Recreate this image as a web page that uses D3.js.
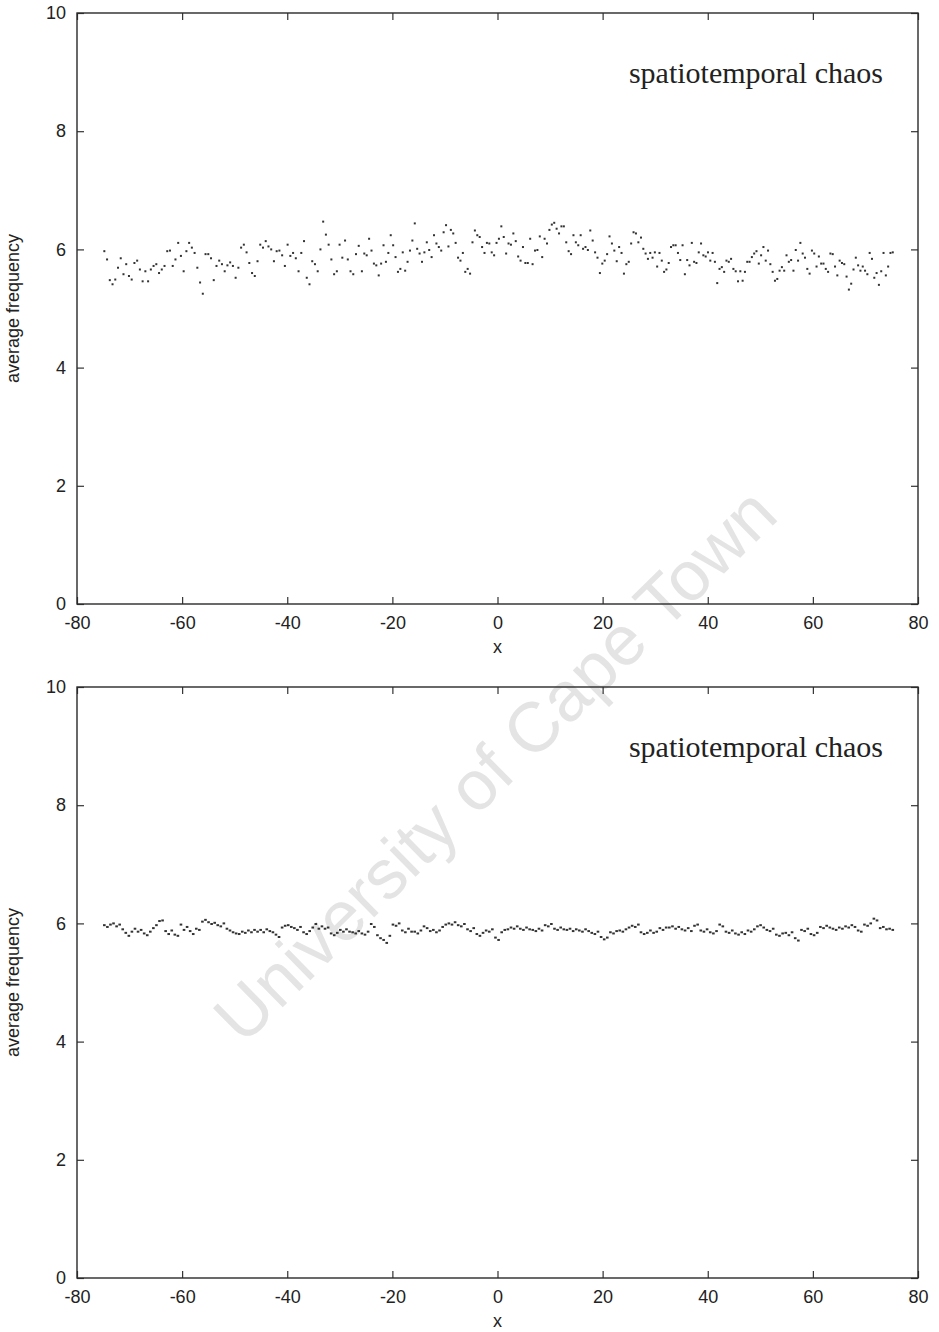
<!DOCTYPE html>
<html>
<head>
<meta charset="utf-8">
<script src="https://cdn.jsdelivr.net/npm/d3@7"></script>
<style>
  body { margin: 0; background: #fff; }
</style>
</head>
<body>
<div id="chart"></div>
<script>
// average frequency, upper panel, in three stretches of x
const topWest = [5.97, 5.83, 5.48, 5.41, 5.49, 5.69, 5.85, 5.58, 5.75, 5.55,
  5.49, 5.77, 5.81, 5.66, 5.46, 5.63, 5.46, 5.66, 5.72, 5.75,
  5.60, 5.66, 5.72, 5.97, 5.98, 5.72, 5.83, 6.11, 5.89, 5.63,
  5.97, 6.11, 6.03, 5.94, 5.69, 5.44, 5.25, 5.92, 5.92, 5.85, 5.48,
  5.72, 5.81, 5.75, 5.63, 5.73, 5.78, 5.72, 5.52, 5.69, 6.03, 6.08, 5.95,
  5.77, 5.60, 5.55, 5.80, 6.08, 6.03, 6.14, 6.05, 6.00, 5.80, 5.97,
  5.98, 5.90, 5.72, 6.08, 5.89, 5.94, 5.85, 5.63, 5.94, 6.14, 5.52, 5.41,
  5.80, 5.75, 5.63, 6.00, 6.47, 6.25, 6.08, 5.83, 5.58, 5.63, 6.08,
  5.86, 6.15, 5.83, 5.63, 5.58, 5.92, 6.06];
const topMid = [5.63, 5.93, 5.90, 6.18, 5.98, 5.76, 5.73, 5.56, 5.76, 6.07,
  5.79, 5.94, 6.24, 6.07, 5.87, 5.62, 5.67, 5.95, 5.64, 5.79,
  5.98, 6.15, 6.44, 6.01, 5.93, 5.79, 5.95, 6.12, 5.99, 5.87,
  6.24, 6.10, 6.04, 5.98, 6.29, 6.41, 6.05, 6.33, 6.27, 6.11,
  5.86, 5.81, 5.94, 5.62, 5.67, 5.59, 6.12, 6.32, 6.24, 6.21,
  6.04, 5.94, 6.11, 6.10, 5.95, 5.90, 6.11, 6.18, 6.39, 6.21,
  5.93, 6.10, 6.08, 6.27, 6.14, 5.88, 5.81, 6.04, 5.77, 5.77,
  6.18, 5.75, 5.98, 5.99, 6.22, 5.87, 6.18, 6.10, 6.33, 6.42,
  6.45, 6.35, 6.27, 6.39, 6.39, 6.12, 5.97, 5.92, 6.24, 6.12,
  6.07, 6.24, 6.01, 6.04, 5.99, 6.32, 6.15, 5.95, 5.86, 5.60,
  5.76, 5.81, 5.92, 6.22, 6.10, 5.98, 5.80, 6.04, 5.94, 5.59,
  5.75, 5.79, 6.10, 6.29, 6.27, 6.12];
const topEast = [6.20, 6.01, 5.93, 5.84, 5.94, 5.86, 5.95, 5.71, 5.94, 5.81,
  5.62, 5.66, 5.77, 6.04, 6.07, 6.07, 5.94, 5.82, 6.07, 5.58,
  5.82, 5.73, 6.11, 5.79, 5.77, 5.95, 6.10, 5.90, 5.88, 5.95,
  5.81, 5.94, 5.79, 5.43, 5.67, 5.70, 5.62, 5.81, 5.79, 5.84,
  5.67, 5.63, 5.46, 5.63, 5.47, 5.62, 5.79, 5.79, 5.87, 5.93,
  5.97, 5.76, 5.90, 6.04, 5.81, 5.98, 5.75, 5.62, 5.47, 5.50,
  5.64, 5.70, 5.64, 5.90, 5.79, 5.82, 5.64, 5.99, 5.81, 6.11,
  5.93, 5.86, 5.67, 5.59, 5.98, 5.93, 5.71, 5.88, 5.76, 5.76,
  5.67, 5.62, 5.93, 5.92, 5.71, 5.56, 5.81, 5.77, 5.75, 5.54,
  5.32, 5.42, 5.66, 5.86, 5.73, 5.64, 5.71, 5.64, 5.58, 5.94,
  5.84, 5.52, 5.60, 5.40, 5.63, 5.94, 5.56, 5.71, 5.94, 5.95];

// lower panel, same stretches
const bottomWest = [5.97, 5.94, 5.98, 6.00, 5.95, 5.98, 5.90, 5.84, 5.79,
  5.86, 5.91, 5.86, 5.89, 5.83, 5.80, 5.86, 5.92, 5.97, 6.04, 6.05,
  5.87, 5.82, 5.88, 5.81, 5.79, 5.98, 5.89, 5.94, 5.87, 5.82,
  5.91, 5.89, 6.03, 6.06, 6.02, 5.99, 6.01, 5.97, 5.95, 6.00,
  5.91, 5.88, 5.85, 5.83, 5.82, 5.86, 5.84, 5.88, 5.85, 5.89, 5.86,
  5.89, 5.85, 5.90, 5.87, 5.85, 5.81, 5.77, 5.93, 5.96, 5.97, 5.94,
  5.92, 5.89, 5.94, 5.85, 5.82, 5.87, 5.93, 5.99, 5.91, 5.95, 5.91, 5.93,
  5.83, 5.80, 5.84, 5.89, 5.86, 5.90, 5.86, 5.85, 5.83, 5.87];
const bottomMid = [5.83, 5.81, 5.86, 5.99, 5.94, 5.80, 5.75, 5.72, 5.67,
  5.79, 5.98, 5.96, 6.00, 5.88, 5.85, 5.91, 5.86, 5.86, 5.83, 5.88,
  5.95, 5.92, 5.87, 5.89, 5.85, 5.88, 5.94, 5.98, 6.00, 5.98, 6.02,
  5.97, 5.95, 5.99, 5.90, 5.87, 5.92, 5.82, 5.79, 5.84, 5.88, 5.86, 5.90,
  5.76, 5.72, 5.85, 5.89, 5.90, 5.93, 5.91, 5.95, 5.91, 5.89, 5.93, 5.90,
  5.89, 5.87, 5.91, 5.88, 5.97, 5.95, 5.99, 5.91, 5.89, 5.93, 5.90,
  5.89, 5.91, 5.87, 5.90, 5.88, 5.86, 5.90, 5.87, 5.84, 5.82, 5.86,
  5.77, 5.73, 5.76, 5.85, 5.83, 5.87, 5.88, 5.86, 5.90, 5.93, 5.96, 5.94, 5.98];
const bottomEast = [5.85, 5.82, 5.84, 5.88, 5.84, 5.86, 5.92, 5.89, 5.93,
  5.93, 5.95, 5.91, 5.94, 5.90, 5.88, 5.92, 5.87, 5.96, 5.98,
  5.88, 5.86, 5.90, 5.85, 5.83, 5.87, 5.98, 5.95, 5.86, 5.84, 5.88,
  5.83, 5.81, 5.85, 5.82, 5.88, 5.86, 5.90, 5.95, 5.97, 5.93,
  5.89, 5.87, 5.91, 5.81, 5.79, 5.83, 5.84, 5.80, 5.85, 5.75, 5.71,
  5.89, 5.87, 5.91, 5.82, 5.80, 5.84, 5.94, 5.92, 5.96, 5.93,
  5.91, 5.89, 5.93, 5.91, 5.95, 5.93, 5.97, 5.94, 5.88, 5.86,
  5.98, 5.96, 6.00, 6.08, 6.05, 5.92, 5.94, 5.90, 5.91, 5.89];

// x range covered by each stretch
const westSpan = [-74.8, -26.4];
const midSpan = [-25.8, 26.8];
const eastSpan = [27.3, 75.2];

const xTicks = [-80, -60, -40, -20, 0, 20, 40, 60, 80];
const yTicks = [0, 2, 4, 6, 8, 10];
const caption = "spatiotemporal chaos";
const xTitle = "x";
const yTitle = "average frequency";
const watermark = "University of Cape Town";

// spread a stretch of readings evenly over its x span
function spread(values, span) {
    return values.map((v, i) => ({
        x: span[0] + (span[1] - span[0]) * i / (values.length - 1),
        y: v
    }));
}

const topData = [].concat(spread(topWest, westSpan), spread(topMid, midSpan), spread(topEast, eastSpan));
const bottomData = [].concat(spread(bottomWest, westSpan), spread(bottomMid, midSpan), spread(bottomEast, eastSpan));

const width = 939, height = 1332;
const left = 77, right = 918;
const panels = [
    { top: 13, bottom: 604, data: topData, dotW: 2 },
    { top: 687, bottom: 1278, data: bottomData, dotW: 2.6 }
];

const sans = "'Liberation Sans', Arial, Helvetica, sans-serif";

const svg = d3.select("#chart")
    .append("svg")
    .attr("width", width)
    .attr("height", height);

// faint library stamp across the page
svg.append("text")
    .attr("transform", "translate(495,765) rotate(-44.5)")
    .attr("text-anchor", "middle")
    .attr("dominant-baseline", "central")
    .style("font-family", sans)
    .style("font-size", "70px")
    .style("fill", "#e4e4e4")
    .text(watermark);

const x = d3.scaleLinear().domain([-80, 80]).range([left, right]);
const plain = d => String(d); // keep the ascii hyphen for negatives

panels.forEach(p => {
    const y = d3.scaleLinear().domain([0, 10]).range([p.bottom, p.top]);
    const g = svg.append("g");

    // ticks on all four sides, pointing inward
    const axes = [
        { axis: d3.axisBottom(x).tickValues(xTicks).tickFormat(plain).tickPadding(12), at: `translate(0,${p.bottom})` },
        { axis: d3.axisTop(x).tickValues(xTicks).tickFormat(""), at: `translate(0,${p.top})` },
        { axis: d3.axisLeft(y).tickValues(yTicks).tickFormat(plain).tickPadding(11), at: `translate(${left},0)` },
        { axis: d3.axisRight(y).tickValues(yTicks).tickFormat(""), at: `translate(${right},0)` }
    ];
    axes.forEach(a => {
        const ag = g.append("g")
            .attr("transform", a.at)
            .call(a.axis.tickSizeInner(-7).tickSizeOuter(0));
        ag.select(".domain").remove();
        ag.selectAll("line").attr("stroke", "#333").attr("stroke-width", 1.2);
        ag.selectAll("text")
            .style("font-family", sans)
            .style("font-size", "18px")
            .attr("fill", "#222");
    });

    g.append("rect")
        .attr("x", left)
        .attr("y", p.top)
        .attr("width", right - left)
        .attr("height", p.bottom - p.top)
        .attr("fill", "none")
        .attr("stroke", "#2a2a2a")
        .attr("stroke-width", 1.4);

    // the points
    g.selectAll(".dot")
        .data(p.data)
        .enter()
        .append("rect")
        .attr("class", "dot")
        .attr("x", d => x(d.x) - p.dotW / 2)
        .attr("y", d => y(d.y) - 1)
        .attr("width", p.dotW)
        .attr("height", 2)
        .attr("fill", "#333");

    g.append("text")
        .attr("x", 883)
        .attr("y", p.top + 70)
        .attr("text-anchor", "end")
        .style("font-family", "'Liberation Serif', 'Times New Roman', serif")
        .style("font-size", "30px")
        .attr("fill", "#222")
        .text(caption);

    g.append("text")
        .attr("x", x(0))
        .attr("y", p.bottom + 49)
        .attr("text-anchor", "middle")
        .style("font-family", sans)
        .style("font-size", "18px")
        .attr("fill", "#222")
        .text(xTitle);

    g.append("text")
        .attr("transform", `translate(19,${(p.top + p.bottom) / 2}) rotate(-90)`)
        .attr("text-anchor", "middle")
        .style("font-family", sans)
        .style("font-size", "18px")
        .attr("fill", "#222")
        .text(yTitle);
});
</script>
</body>
</html>
